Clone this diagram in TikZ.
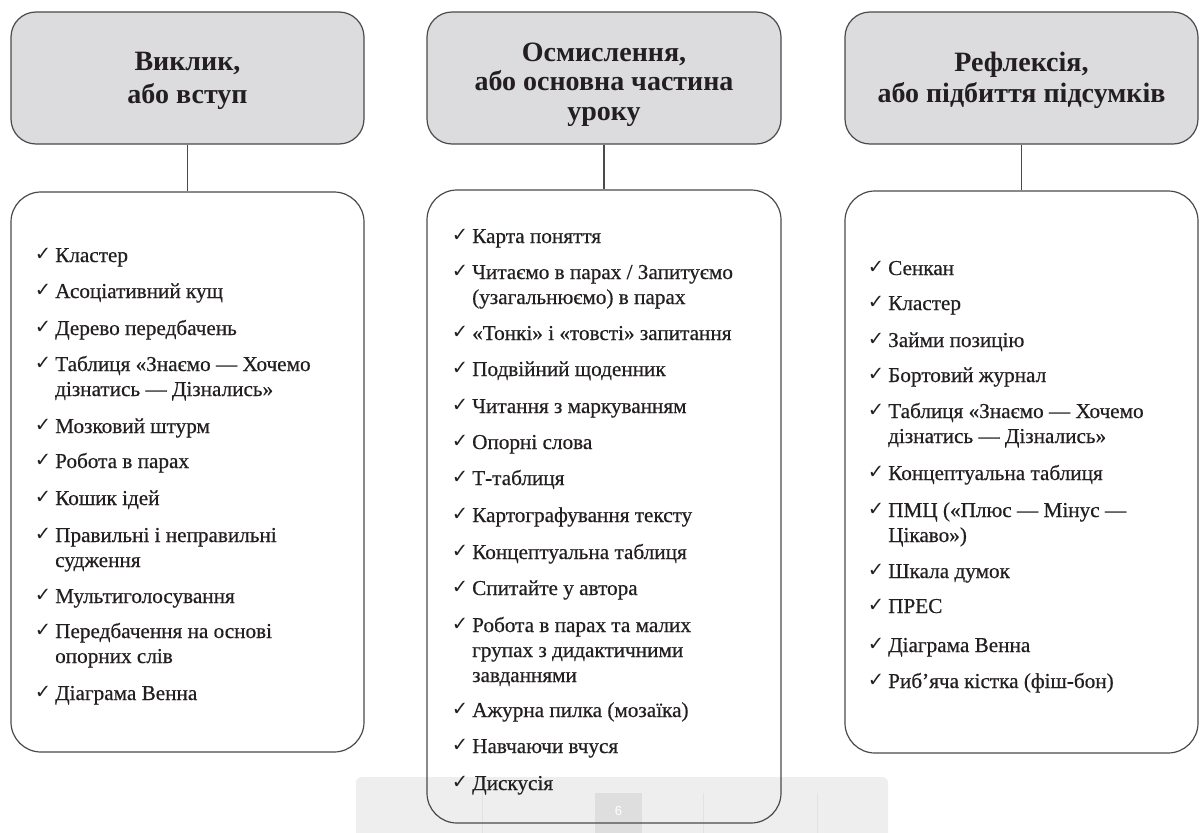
\documentclass[tikz,border=0pt]{standalone}
\usepackage{fontspec}
\setmainfont{Liberation Serif}
\newfontfamily\itemfont[FakeBold=0.5]{Liberation Serif}
\newfontfamily\ckfont{DejaVu Sans}
\newfontfamily\tbfont{Liberation Sans}
\definecolor{hdrfill}{HTML}{DCDCDE}
\definecolor{edge}{HTML}{4A4A4A}
\definecolor{ink}{HTML}{231F20}
\definecolor{tbgray}{HTML}{EEEEEE}
\definecolor{tbsq}{HTML}{DEDEDE}
\definecolor{tbline}{HTML}{E2E2E2}
\newcommand{\ck}{\llap{\raisebox{2pt}{\ckfont\fontsize{19.5}{19.5}\selectfont ✓}\hspace{4pt}}}
\newcommand{\itmtext}[1]{\parbox[t]{320pt}{\raggedright #1}}
% header text: #1 space above first line, #2 line spacing, #3 text
\newcommand{\hdrtext}[3]{\parbox[c][132pt][t]{353pt}{\centering\fontsize{28}{#2}\selectfont\vspace*{#1}\rule{0pt}{20pt}#3}}
\tikzset{
  hdr/.style={draw=edge, line width=1.2pt, fill=hdrfill, rounded corners=25pt,
    inner sep=0pt, text=ink, font=\bfseries},
  lst/.style={draw=edge, line width=1.2pt, rounded corners=30pt, inner sep=0pt},
  itm/.style={anchor=base west, inner sep=0pt, text=ink,
    font=\itemfont\fontsize{21.2}{25}\selectfont},
  conn/.style={draw=edge, line width=1.2pt}
}
\begin{document}
\begin{tikzpicture}[x=1pt,y=-1pt]
\useasboundingbox (0,0) rectangle (1203,833);
\fill[white] (0,0) rectangle (1203,833);
% page toolbar (behind the boxes)
\fill[tbgray, rounded corners=6pt] (356,845) rectangle (888,777);
\fill[tbsq] (595,793) rectangle (642,845);
\draw[tbline, line width=0.8pt] (482,793) -- (482,833);
\draw[tbline, line width=0.8pt] (703,793) -- (703,833);
\draw[tbline, line width=0.8pt] (817,793) -- (817,833);
\node[text=white, font=\tbfont\fontsize{13}{13}\selectfont, inner sep=0pt] (pg) at (618.5,811) {6};
% headers
\node[hdr, minimum width=353pt, minimum height=132pt] (h1) at (187.5,78) {\hdrtext{38pt}{33pt}{Виклик,\\або вступ}};
\node[hdr, minimum width=354pt, minimum height=132pt] (h2) at (604,78) {\hdrtext{29.5pt}{29.3pt}{Осмислення,\\або основна частина\\уроку}};
\node[hdr, minimum width=353pt, minimum height=132pt] (h3) at (1021.5,78) {\hdrtext{39pt}{31pt}{Рефлексія,\\або підбиття підсумків}};
% list boxes
\node[lst, minimum width=353pt, minimum height=560pt] (l1) at (187.5,472) {};
\node[lst, minimum width=354pt, minimum height=633pt] (l2) at (604,506.5) {};
\node[lst, minimum width=353pt, minimum height=562pt] (l3) at (1021.5,472) {};
% connectors
\draw[conn] (h1.south) -- (l1.north);
\draw[conn] (h2.south) -- (l2.north);
\draw[conn] (h3.south) -- (l3.north);
% column 1
\node[itm] (a1) at (55,262) {\ck\itmtext{Кластер}};
\node[itm] (a2) at (55,298) {\ck\itmtext{Асоціативний кущ}};
\node[itm] (a3) at (55,335) {\ck\itmtext{Дерево передбачень}};
\node[itm] (a4) at (55,371) {\ck\itmtext{Таблиця «Знаємо — Хочемо\\дізнатись — Дізнались»}};
\node[itm] (a5) at (55,433) {\ck\itmtext{Мозковий штурм}};
\node[itm] (a6) at (55,468) {\ck\itmtext{Робота в парах}};
\node[itm] (a7) at (55,505) {\ck\itmtext{Кошик ідей}};
\node[itm] (a8) at (55,542) {\ck\itmtext{Правильні і неправильні\\судження}};
\node[itm] (a9) at (55,603) {\ck\itmtext{Мультиголосування}};
\node[itm] (a10) at (55,638) {\ck\itmtext{Передбачення на основі\\опорних слів}};
\node[itm] (a11) at (55,700) {\ck\itmtext{Діаграма Венна}};
% column 2
\node[itm] (b1) at (472,243) {\ck\itmtext{Карта поняття}};
\node[itm] (b2) at (472,279) {\ck\itmtext{Читаємо в парах / Запитуємо\\(узагальнюємо) в парах}};
\node[itm] (b3) at (472,340) {\ck\itmtext{«Тонкі» і «товсті» запитання}};
\node[itm] (b4) at (472,376) {\ck\itmtext{Подвійний щоденник}};
\node[itm] (b5) at (472,413) {\ck\itmtext{Читання з маркуванням}};
\node[itm] (b6) at (472,449) {\ck\itmtext{Опорні слова}};
\node[itm] (b7) at (472,485) {\ck\itmtext{Т-таблиця}};
\node[itm] (b8) at (472,522) {\ck\itmtext{Картографування тексту}};
\node[itm] (b9) at (472,559) {\ck\itmtext{Концептуальна таблиця}};
\node[itm] (b10) at (472,595) {\ck\itmtext{Спитайте у автора}};
\node[itm] (b11) at (472,632) {\ck\itmtext{Робота в парах та малих\\групах з дидактичними\\завданнями}};
\node[itm] (b12) at (472,717) {\ck\itmtext{Ажурна пилка (мозаїка)}};
\node[itm] (b13) at (472,753) {\ck\itmtext{Навчаючи вчуся}};
\node[itm] (b14) at (472,790) {\ck\itmtext{Дискусія}};
% column 3
\node[itm] (c1) at (888,275) {\ck\itmtext{Сенкан}};
\node[itm] (c2) at (888,310) {\ck\itmtext{Кластер}};
\node[itm] (c3) at (888,347) {\ck\itmtext{Займи позицію}};
\node[itm] (c4) at (888,382) {\ck\itmtext{Бортовий журнал}};
\node[itm] (c5) at (888,418) {\ck\itmtext{Таблиця «Знаємо — Хочемо\\дізнатись — Дізнались»}};
\node[itm] (c6) at (888,480) {\ck\itmtext{Концептуальна таблиця}};
\node[itm] (c7) at (888,517) {\ck\itmtext{ПМЦ («Плюс — Мінус —\\Цікаво»)}};
\node[itm] (c8) at (888,578) {\ck\itmtext{Шкала думок}};
\node[itm] (c9) at (888,613) {\ck\itmtext{ПРЕС}};
\node[itm] (c10) at (888,652) {\ck\itmtext{Діаграма Венна}};
\node[itm] (c11) at (888,688) {\ck\itmtext{Риб’яча кістка (фіш-бон)}};
\end{tikzpicture}
\end{document}
